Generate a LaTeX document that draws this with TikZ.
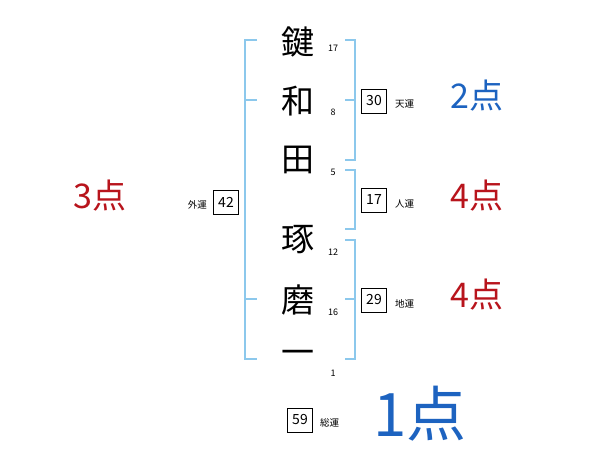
\documentclass[tikz,border=0pt]{standalone}
\usepackage{fontspec}
\newfontfamily\jp{Noto Sans CJK JP}
\definecolor{brk}{HTML}{8CC8EC}
\definecolor{scblue}{HTML}{1D63C0}
\definecolor{scred}{HTML}{B8141C}
\begin{document}
\begin{tikzpicture}[x=1pt,y=-1pt,
  namechar/.style={font=\jp\fontsize{33}{33}\selectfont,inner sep=0pt},
  strokes/.style={font=\jp\fontsize{9}{9}\selectfont,inner sep=0pt},
  unbox/.style={draw,line width=0.7pt,minimum width=25pt,minimum height=24pt,inner sep=0pt,font=\jp\fontsize{14}{14}\selectfont},
  unlabel/.style={font=\jp\fontsize{9.5}{9.5}\selectfont,inner sep=0pt},
  score/.style={font=\jp\fontsize{34}{34}\selectfont,inner sep=0pt},
  bracket/.style={draw=brk,line width=1.5pt}]
\useasboundingbox (0,0) rectangle (600,470);
% name characters
\node[namechar] (c1) at (298,42) {鍵};
\node[namechar] (c2) at (298,101) {和};
\node[namechar] (c3) at (298,160) {田};
\node[namechar] (c4) at (298,240) {琢};
\node[namechar] (c5) at (298,300) {磨};
\node[namechar] (c6) at (298,357) {一};
% stroke counts
\node[strokes] (s1) at (333,48) {17};
\node[strokes] (s2) at (333,112) {8};
\node[strokes] (s3) at (333,172) {5};
\node[strokes] (s4) at (333,252) {12};
\node[strokes] (s5) at (333,312) {16};
\node[strokes] (s6) at (333,373) {1};
% brackets
\coordinate (L1) at (245,40); \coordinate (L2) at (245,359);
\draw[bracket] (257,40) -- (L1) -- (L2) -- (257,359);
\draw[bracket] (245,100) -- (257,100);
\draw[bracket] (245,299) -- (257,299);
\draw[bracket] (345,40) -- (355,40) -- (355,160) -- (345,160);
\draw[bracket] (345,100) -- (355,100);
\draw[bracket] (345,170) -- (355,170) -- (355,229) -- (345,229);
\draw[bracket] (345,240) -- (355,240) -- (355,359) -- (345,359);
\draw[bracket] (345,299) -- (355,299);
% boxes
\node[unbox] (ten) at (374,101) {30};
\node[unlabel,anchor=west] (tenl) at (395,104) {天運};
\node[unbox] (jin) at (374,200) {17};
\node[unlabel,anchor=west] (jinl) at (395,204) {人運};
\node[unbox] (chi) at (374,300) {29};
\node[unlabel,anchor=west] (chil) at (395,304) {地運};
\node[unbox] (gai) at (226,202) {42};
\node[unlabel,anchor=east] (gail) at (207,205) {外運};
\node[unbox] (sou) at (300,420) {59};
\node[unlabel,anchor=west] (soul) at (320,423) {総運};
% scores
\node[score,text=scblue] (p1) at (477,96) {2点};
\node[score,text=scred] (p2) at (477,196) {4点};
\node[score,text=scred] (p3) at (477,295) {4点};
\node[score,text=scred] (p4) at (100,196) {3点};
\node[font=\jp\fontsize{60}{60}\selectfont,inner sep=0pt,text=scblue] (p5) at (420,414) {1点};
\end{tikzpicture}
\end{document}
